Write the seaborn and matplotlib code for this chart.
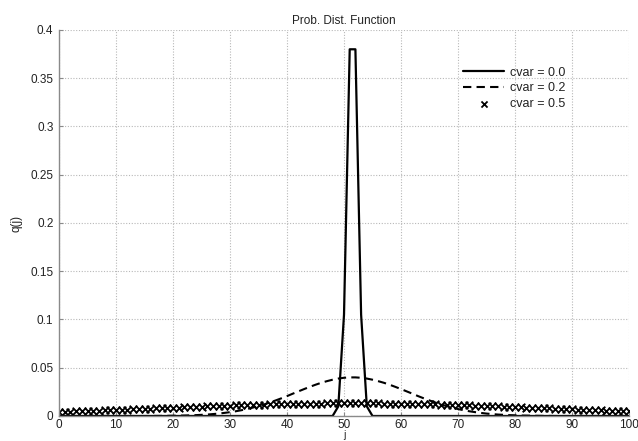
import numpy as np
import pandas as pd
import seaborn as sns
import matplotlib.pyplot as plt

j_values = list(range(0, 101))

q_cvar_00 = [0.0] * 49 + [0.01, 0.105, 0.38, 0.38, 0.105, 0.01] + [0.0] * 46

q_cvar_02 = ([0.0] * 17 +
             [0.0001, 0.0001, 0.0002, 0.0003, 0.0004, 0.0005, 0.0007, 0.0009, 0.0012, 0.0015,
              0.0020, 0.0025, 0.0032, 0.0040, 0.0049, 0.0060, 0.0072, 0.0087, 0.0103, 0.0120,
              0.0140, 0.0161, 0.0183, 0.0206, 0.0231, 0.0255, 0.0279, 0.0302, 0.0324, 0.0344,
              0.0361, 0.0376, 0.0388, 0.0396, 0.0400,
              0.0400, 0.0396, 0.0388, 0.0376, 0.0361, 0.0344, 0.0324, 0.0302, 0.0279, 0.0255,
              0.0231, 0.0206, 0.0183, 0.0161, 0.0140, 0.0120, 0.0103, 0.0087, 0.0072, 0.0060,
              0.0049, 0.0040, 0.0032, 0.0025, 0.0020, 0.0015, 0.0012, 0.0009, 0.0007, 0.0005,
              0.0004, 0.0003, 0.0002, 0.0001, 0.0001] +
             [0.0] * 14)

q_cvar_05 = [0.0042, 0.0043, 0.0045, 0.0047, 0.0049, 0.0051, 0.0053, 0.0056, 0.0058, 0.0060,
             0.0062, 0.0064, 0.0067, 0.0069, 0.0071, 0.0074, 0.0076, 0.0078, 0.0081, 0.0083,
             0.0085, 0.0088, 0.0090, 0.0092, 0.0094, 0.0097, 0.0099, 0.0101, 0.0103, 0.0105,
             0.0107, 0.0109, 0.0111, 0.0113, 0.0115, 0.0117, 0.0118, 0.0120, 0.0121, 0.0122,
             0.0124, 0.0125, 0.0126, 0.0127, 0.0128, 0.0129, 0.0129, 0.0130, 0.0130, 0.0131,
             0.0131, 0.0131,
             0.0131, 0.0131, 0.0131, 0.0130, 0.0130, 0.0129, 0.0129, 0.0128,
             0.0127, 0.0126, 0.0125, 0.0124, 0.0122, 0.0121, 0.0120, 0.0118, 0.0117, 0.0115,
             0.0113, 0.0111, 0.0109, 0.0107, 0.0105, 0.0103, 0.0101, 0.0099, 0.0097, 0.0094,
             0.0092, 0.0090, 0.0088, 0.0085, 0.0083, 0.0081, 0.0078, 0.0076, 0.0074, 0.0071,
             0.0069, 0.0067, 0.0064, 0.0062, 0.0060, 0.0058, 0.0056, 0.0053, 0.0051, 0.0049,
             0.0047]

x_ticks = [0, 10, 20, 30, 40, 50, 60, 70, 80, 90, 100]
y_ticks = [0, 0.05, 0.1, 0.15, 0.2, 0.25, 0.3, 0.35, 0.4]
y_tick_labels = ["0", "0.05", "0.1", "0.15", "0.2", "0.25", "0.3", "0.35", "0.4"]

sns.set_theme(style="white")
plt.rcParams['font.family'] = ['Liberation Sans', 'DejaVu Sans']

df = pd.DataFrame({"j": j_values, "c0": q_cvar_00, "c2": q_cvar_02, "c5": q_cvar_05})

fig = plt.figure(figsize=(6.38, 4.41), dpi=100)
ax = fig.add_axes([0.0925, 0.0567, 0.8934, 0.8753])

sns.lineplot(data=df, x="j", y="c0", ax=ax, color="black", linewidth=1.6,
             label="cvar = 0.0")
sns.lineplot(data=df, x="j", y="c2", ax=ax, color="black", linewidth=1.5,
             linestyle=(0, (4, 2.5)), label="cvar = 0.2")
sns.scatterplot(data=df, x="j", y="c5", ax=ax, color="black", marker="x", s=30,
                linewidth=1.3, label="cvar = 0.5")

ax.set_xlim(0, 100)
ax.set_ylim(0, 0.4)
ax.set_xticks(x_ticks)
ax.set_xticklabels([str(t) for t in x_ticks])
ax.set_yticks(y_ticks)
ax.set_yticklabels(y_tick_labels)

ax.grid(True, color="#b8b8b8", linestyle=(0, (1, 1.5)), linewidth=0.8)
ax.set_axisbelow(True)
for side in ("top", "right"):
    ax.spines[side].set_visible(False)
for side in ("left", "bottom"):
    ax.spines[side].set_color("#8a8a8a")
    ax.spines[side].set_linewidth(1.0)
ax.tick_params(axis="both", direction="in", length=3, width=0.8, color="#8a8a8a",
               labelsize=8.5, labelcolor="#222222", pad=4, left=True, bottom=True)
ax.tick_params(axis="x", pad=2)

ax.set_title("Prob. Dist. Function", fontsize=8.5, color="#222222", pad=4)
ax.set_xlabel("j", fontsize=7.5, color="#222222")
ax.xaxis.set_label_coords(0.5, -0.035)
ax.set_ylabel("q(j)", fontsize=8.5, color="#222222", labelpad=6)

leg = ax.legend(loc="upper right", bbox_to_anchor=(0.897, 0.918), frameon=False,
                fontsize=9, handlelength=3.3, handletextpad=0.45, labelspacing=0.3,
                borderaxespad=0, markerscale=0.8)
for t in leg.get_texts():
    t.set_color("#222222")

fig.savefig("out.png", dpi=100)
